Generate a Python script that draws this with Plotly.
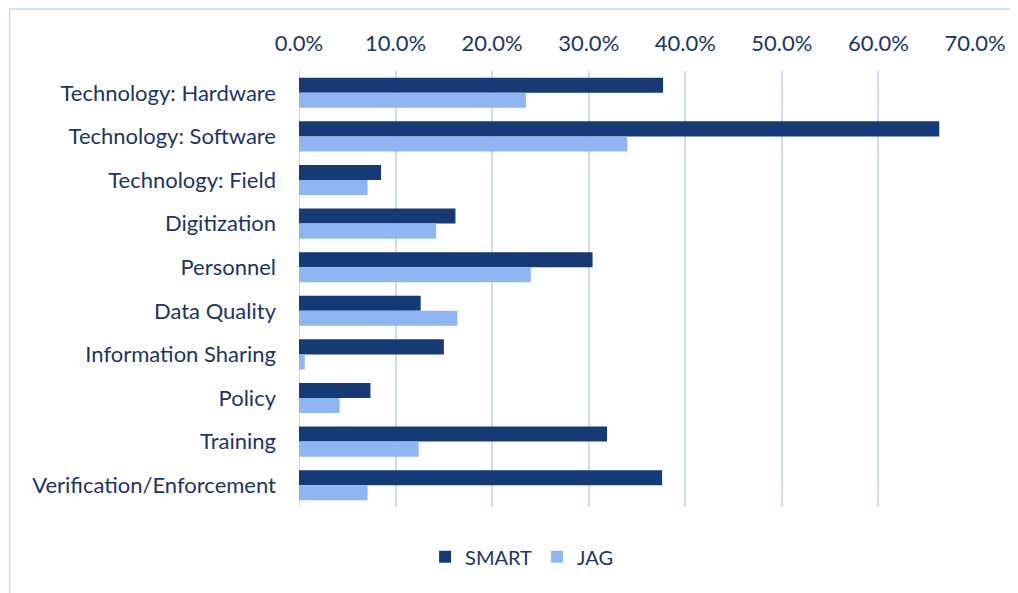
import plotly.graph_objects as go

categories = [
    "Technology: Hardware",
    "Technology: Software",
    "Technology: Field",
    "Digitization",
    "Personnel",
    "Data Quality",
    "Information Sharing",
    "Policy",
    "Training",
    "Verification/Enforcement",
]
smart_values = [0.377, 0.663, 0.085, 0.162, 0.304, 0.126, 0.150, 0.074, 0.319, 0.376]
jag_values = [0.235, 0.340, 0.071, 0.142, 0.240, 0.164, 0.006, 0.042, 0.124, 0.071]
x_ticks = [0.0, 0.1, 0.2, 0.3, 0.4, 0.5, 0.6, 0.7]

TEXT = "#1b3565"
GRID = "#cddcf6"
FONT = "Lato"

fig = go.Figure()
fig.add_trace(go.Bar(
    y=categories, x=smart_values, name="SMART", orientation="h",
    marker=dict(color="#163a76", line=dict(width=0)),
))
fig.add_trace(go.Bar(
    y=categories, x=jag_values, name="JAG", orientation="h",
    marker=dict(color="#8fb6f3", line=dict(width=0)),
))

# page body has an 8px margin, so the figure is 8px smaller on each offset side
fig.update_layout(
    width=1010, height=585,
    margin=dict(l=291, r=38, t=63, b=86),
    paper_bgcolor="white", plot_bgcolor="white",
    barmode="group", bargap=0.31, bargroupgap=0,
    font=dict(family=FONT, size=22, color=TEXT),
    showlegend=True,
    legend=dict(
        orientation="h", xref="container", yref="container",
        x=0.509, xanchor="center", y=0.062, yanchor="middle",
        font=dict(family=FONT, size=20, color=TEXT),
        itemwidth=30, traceorder="normal",
    ),
    xaxis=dict(
        side="top", range=[0, 0.7], tickvals=x_ticks, tickformat=".1%",
        showgrid=True, gridcolor=GRID, gridwidth=2,
        zeroline=False, showline=False, ticks="",
        ticklabelstandoff=15, fixedrange=True,
    ),
    yaxis=dict(
        autorange="reversed", showgrid=False, zeroline=False,
        showline=False, ticks="", ticklabelstandoff=22,
    ),
    shapes=[
        dict(type="rect", xref="paper", yref="paper",
             x0=-0.428, x1=1.2, y0=-0.3, y1=1.142,
             line=dict(color="#c5d9f1", width=1.5), fillcolor="rgba(0,0,0,0)",
             layer="below"),
        dict(type="line", xref="x", yref="paper", x0=0, x1=0, y0=0, y1=1,
             line=dict(color=GRID, width=2), layer="below"),
    ],
)

fig.write_html("out.html")
